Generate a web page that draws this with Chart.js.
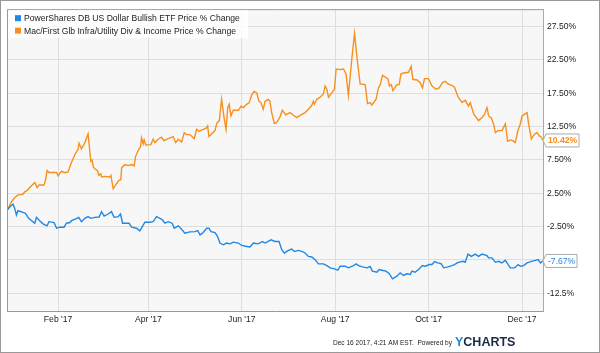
<!DOCTYPE html>
<html><head><meta charset="utf-8">
<script src="https://cdn.jsdelivr.net/npm/chart.js@4.4.1/dist/chart.umd.min.js"></script>
<style>html,body{margin:0;padding:0;background:#fff}#wrap{width:600px;height:353px;position:relative}canvas{display:block}</style>
</head><body><div id="wrap"><canvas id="c" width="600" height="353"></canvas></div>
<script>
const seriesNames = ["PowerShares DB US Dollar Bullish ETF Price % Change", "Mac/First Glb Infra/Utility Div & Income Price % Change"];
const seriesColors = ["#1f88e5", "#f7901e"];
// x = days since Jan 1 2017
const blueDays = [-2.1,0.1,1.6,2.7,3.8,4.8,8.1,9.7,11.8,15.8,16.9,19.0,21.2,23.8,25.1,28.4,30.0,32.1,34.9,36.5,38.7,39.8,43.0,44.5,46.3,48.5,50.6,52.4,55.0,57.8,59.4,61.1,63.7,65.9,67.6,70.2,71.8,73.1,75.7,77.4,79.0,82.3,84.4,87.7,91.0,93.1,95.3,97.5,99.3,100.8,102.9,105.5,106.9,109.5,111.7,113.8,117.1,120.4,122.2,123.7,125.8,128.0,129.5,130.9,133.5,135.2,136.7,138.9,141.1,143.3,145.4,148.7,150.9,154.2,156.4,158.5,161.8,164.4,166.2,170.1,172.7,175.3,177.1,178.8,181.4,183.6,185.3,187.9,190.2,192.3,194.5,196.7,198.9,201.0,204.3,206.5,208.7,211.5,213.7,215.2,218.5,220.6,223.2,225.7,227.2,229.8,232.7,234.8,236.3,239.2,240.7,242.5,245.1,247.2,249.4,252.3,254.4,256.6,258.8,261.0,262.1,264.2,266.9,269.0,270.8,273.4,275.2,276.9,279.1,281.3,282.8,285.6,288.2,289.9,292.2,295.8,296.9,298.7,300.9,303.5,305.6,307.9,311.1,312.2,314.4,316.6,318.7,320.9,323.1,324.9,326.4,329.2,331.4,332.9,335.1,337.3,340.1,342.7,344.5,346.0,347.7];
const blueValues = [0,0.57,0.86,0.22,-0.77,-0.13,-0.37,-0.52,-1.27,-2.0,-1.12,-1.62,-2.1,-2.4,-1.77,-1.9,-2.75,-2.6,-2.6,-2.0,-1.9,-1.62,-1.32,-1.12,-1.77,-1.27,-1.02,-1.27,-1.12,-1.07,-0.27,-0.92,-0.62,-0.27,-1.12,-1.02,-0.62,-2.0,-2.0,-2.0,-2.6,-2.75,-3.15,-1.86,-1.86,-1.77,-1.02,-1.27,-1.52,-2.0,-1.77,-2.0,-2.75,-2.4,-2.9,-3.5,-3.3,-3.26,-3.1,-3.75,-3.4,-2.75,-2.75,-3.26,-3.4,-4.0,-4.98,-5.24,-4.98,-5.1,-4.84,-4.98,-5.34,-5.49,-5.58,-4.98,-5.1,-4.75,-4.98,-4.5,-4.75,-4.75,-5.98,-6.47,-6.09,-5.88,-6.24,-6.09,-6.24,-6.47,-6.98,-7.07,-7.47,-8.11,-8.11,-8.36,-8.7,-8.85,-9.06,-8.46,-8.46,-8.7,-8.46,-8.11,-8.36,-8.56,-8.7,-8.5,-9.2,-9.36,-8.96,-9.06,-9.2,-9.55,-10.34,-9.95,-9.45,-9.85,-9.6,-9.7,-9.2,-9.36,-8.85,-8.36,-8.46,-8.21,-8.21,-7.77,-7.96,-8.11,-8.7,-8.56,-8.36,-8.21,-7.87,-7.72,-7.87,-6.64,-6.98,-6.64,-6.98,-6.64,-6.88,-7.2,-7.2,-7.87,-7.72,-7.96,-7.57,-8.21,-8.7,-8.7,-8.21,-8.46,-8.36,-7.96,-7.72,-7.57,-7.47,-7.96,-7.67];
const orangeDays = [-2.1,0.5,2.7,4.8,8.1,9.2,11.0,12.5,15.8,17.3,18.6,21.8,22.8,23.8,25.1,30.0,31,33.2,35.4,37.5,39.8,42.4,44.1,44.7,46.3,48.5,50.6,52.4,53.2,54.1,55.0,56.8,57.6,58.9,59.4,61.5,64.8,65.5,67.0,69.2,70.7,72.0,72.5,74.6,76.8,79.0,80.7,81.6,83.3,84.9,85.5,86.6,87.2,88.3,91.6,93.1,94.2,96.4,98.6,100.1,102.9,106.2,107.8,109.5,111.7,113.4,115.0,117.1,119.9,121.5,123.0,125.8,128.0,128.7,129.5,131.3,133.5,134.6,136.3,137.8,139.4,140.7,141.8,142.8,143.9,145.4,148.7,150.5,152.0,154.2,155.9,157.5,159.0,160.7,162.2,163.5,165.0,166.2,168.3,169.4,170.5,172.2,173.8,176.0,177.5,179.7,182.5,184.7,186.9,189.7,192.3,194.5,196.7,197.7,198.4,200.0,202.1,204.3,205.4,206.5,207.6,209.8,211.5,212.6,215.2,217.4,219.1,220.6,222.9,224.6,226.5,228.3,231.6,233.1,234.8,235.9,238.7,240.2,241.4,242.9,246.4,247.4,248.6,249.7,252.3,253.8,254.9,256.6,259.9,261.6,262.7,265.4,267.5,269.0,270.3,272.9,275.2,277.8,279.9,282.1,283.9,285.6,288.2,289.9,292.2,294.8,296.9,299.1,300.2,302.4,305.6,307.9,309.6,311.1,312.2,313.9,315.4,316.6,318.3,320.9,323.1,324.6,326.4,327.9,329.6,331.4,332.9,334.0,336.2,337.3,338.3,340.1,342.3,343.8,345.3,346.6,347.7];
const orangeValues = [0,1.2,1.86,2.25,2.35,2.7,2.95,3.35,4.1,3.35,3.74,3.74,4.44,5.9,5.6,5.6,5.1,5.8,5.58,5.7,7.15,8.5,9.1,10.0,9.15,10.1,11.4,7.3,7.5,6.4,6.17,5.9,5.18,5.43,4.93,5.03,4.93,5.18,3.2,3.94,4.44,4.54,6.3,6.8,6.67,6.8,6.6,8.0,8.9,9.5,10.8,9.9,10.5,9.75,9.8,10.6,10.1,10.6,10.9,10.4,10.7,11.0,10.1,10.6,10.2,11.6,11.3,11.3,10.7,12.1,11.8,12.07,12.3,12.6,11.0,11.4,11.9,13.0,13.4,16.6,13.85,12.1,15.35,15.85,14.1,14.95,14.95,15.55,15.35,15.85,16.1,17.3,17.8,17.6,16.3,16.1,15.1,16.3,16.6,16.3,14.6,13.0,13.1,14.0,14.95,14.25,14.6,14.2,13.85,14.25,14.6,15.1,15.7,16.3,15.85,16.6,16.9,17.4,18.6,18.1,16.9,17.6,18.1,21.15,21.05,21.15,20.4,17.2,22.8,26.5,22.3,18.9,18.8,15.95,16.1,15.75,16.6,18.3,18.8,20.2,19.7,18.6,18.8,17.9,18.8,18.8,20.4,20.55,20.65,21.55,19.6,19.5,19.1,18.3,19.7,19.7,18.6,18.1,18.3,19.1,19.3,18.9,18.7,18.4,17.0,16.1,16.45,15.6,16.1,14.4,13.4,13.85,14.4,15.35,14.1,13.8,12.9,11.6,11.9,11.9,12.9,10.3,10.5,10.4,10.1,11.98,12.9,14.1,14.45,14.6,12.9,10.64,11.4,11.6,11.1,10.9,10.42];
const monthTickDays = [31, 90, 151, 212, 273, 334];
const monthTickLabels = ["Feb '17", "Apr '17", "Jun '17", "Aug '17", "Oct '17", "Dec '17"];
const yTickValues = [27.5, 22.5, 17.5, 12.5, 7.5, 2.5, -2.5, -7.5, -12.5];
const yTickLabels = ["27.50%", "22.50%", "17.50%", "12.50%", "7.50%", "2.50%", "-2.50%", "-7.50%", "-12.5%"];
const lastLabels = ["-7.67%", "10.42%"];
const footerText = "Dec 16 2017, 4:21 AM EST.  Powered by";
const logoText = ["Y", "CHARTS"];

const FF = '"Liberation Sans", Arial, sans-serif';

const deco = {
  id: 'deco',
  beforeDraw(chart) {
    const {ctx, chartArea: a} = chart;
    ctx.save();
    ctx.fillStyle = '#fff';
    ctx.fillRect(0, 0, chart.width, chart.height);
    ctx.fillStyle = '#f7f7f7';
    ctx.fillRect(a.left, a.top, a.right - a.left, a.bottom - a.top);
    ctx.restore();
  },
  afterDatasetsDraw(chart) {
    const {ctx, chartArea: a} = chart;
    ctx.save();
    // plot border (left/top)
    ctx.strokeStyle = '#999';
    ctx.lineWidth = 1;
    ctx.beginPath();
    ctx.moveTo(a.left + 0.5, a.bottom); ctx.lineTo(a.left + 0.5, a.top + 0.5); ctx.lineTo(a.right, a.top + 0.5);
    ctx.stroke();
    // legend
    ctx.fillStyle = 'rgba(255,255,255,0.8)';
    ctx.fillRect(a.left + 1, a.top + 1, 240, 28);
    ctx.font = '8.6px ' + FF;
    ctx.textBaseline = 'middle';
    seriesNames.forEach((n, i) => {
      const y = a.top + 9 + i * 12.5;
      ctx.fillStyle = seriesColors[i];
      ctx.fillRect(a.left + 8, y - 3, 6, 6);
      ctx.fillStyle = '#222';
      ctx.fillText(n, a.left + 17, y + 0.5, 218);
    });
    ctx.restore();
  },
  afterDraw(chart) {
    const {ctx, chartArea: a} = chart;
    const ys = chart.scales.y;
    ctx.save();
    const lastVals = [blueValues[blueValues.length - 1], orangeValues[orangeValues.length - 1]];
    lastVals.forEach((v, i) => {
      const yc = ys.getPixelForValue(v);
      const x0 = a.right, x1 = a.right + 3, x2 = x1 + (i === 1 ? 33 : 31);
      ctx.beginPath();
      ctx.moveTo(x0, yc);
      ctx.lineTo(x1, yc - 6.5);
      ctx.lineTo(x2, yc - 6.5);
      ctx.lineTo(x2, yc + 6.5);
      ctx.lineTo(x1, yc + 6.5);
      ctx.closePath();
      ctx.fillStyle = '#fff';
      ctx.fill();
      ctx.strokeStyle = '#aaa';
      ctx.lineWidth = 1;
      ctx.stroke();
      ctx.fillStyle = seriesColors[i];
      ctx.font = (i === 1 ? 'bold ' : '') + '8.6px ' + FF;
      ctx.textBaseline = 'middle';
      ctx.textAlign = 'left';
      ctx.fillText(lastLabels[i], x1 + 2, yc + 0.5);
    });
    // footer
    ctx.fillStyle = '#222';
    ctx.font = '8px ' + FF;
    ctx.textBaseline = 'alphabetic';
    ctx.textAlign = 'left';
    ctx.fillText(footerText, 333, 345, 119);
    ctx.font = 'bold 12.5px ' + FF;
    ctx.fillStyle = '#1f88e5';
    ctx.fillText(logoText[0], 455, 346);
    const w = ctx.measureText(logoText[0]).width;
    ctx.fillStyle = '#1b2a48';
    ctx.fillText(logoText[1], 455 + w, 346);
    // outer frame
    ctx.strokeStyle = '#999';
    ctx.lineWidth = 1;
    ctx.strokeRect(0.5, 0.5, chart.width - 1, chart.height - 1);
    ctx.restore();
  }
};

new Chart(document.getElementById('c'), {
  type: 'line',
  data: {
    datasets: [
      {label: seriesNames[0], data: blueDays.map((d, i) => ({x: d, y: blueValues[i]})), borderColor: seriesColors[0], borderWidth: 1.4, pointRadius: 0, tension: 0, fill: false},
      {label: seriesNames[1], data: orangeDays.map((d, i) => ({x: d, y: orangeValues[i]})), borderColor: seriesColors[1], borderWidth: 1.4, pointRadius: 0, tension: 0, fill: false}
    ]
  },
  options: {
    responsive: false,
    animation: false,
    devicePixelRatio: 1,
    layout: {padding: {left: 7, top: 7, right: 0, bottom: 0}},
    plugins: {legend: {display: false}, tooltip: {enabled: false}},
    scales: {
      x: {
        type: 'linear', min: -2.35, max: 347.7,
        afterBuildTicks(s) { s.ticks = monthTickDays.map(v => ({value: v})); },
        afterFit(s) { s.height = 42; },
        grid: {color: '#dedede', drawTicks: false},
        border: {color: '#999'},
        ticks: {autoSkip: false, maxRotation: 0, padding: 3, color: '#222', font: {family: FF, size: 8.6},
          callback: (v, i) => monthTickLabels[i]}
      },
      y: {
        position: 'right', min: -15.18, max: 30.13,
        afterBuildTicks(s) { s.ticks = yTickValues.map(v => ({value: v})); },
        afterFit(s) { s.width = 57; },
        grid: {color: '#dedede', drawTicks: false},
        border: {color: '#aaa'},
        ticks: {padding: 4, color: '#222', font: {family: FF, size: 8.6},
          callback: (v, i) => yTickLabels[i]}
      }
    }
  },
  plugins: [deco]
});
</script>
</body></html>
